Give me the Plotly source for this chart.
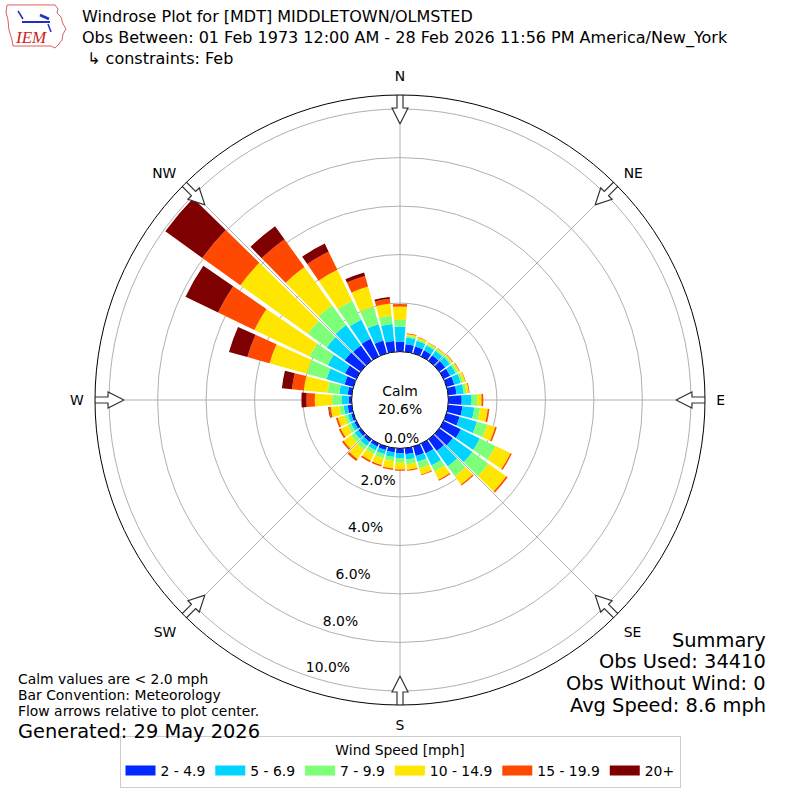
import numpy as np
import plotly.graph_objects as go

# ---------------- data ----------------
directions = list(range(0, 360, 10))
speed_labels = ["2 - 4.9", "5 - 6.9", "7 - 9.9", "10 - 14.9", "15 - 19.9", "20+"]
speed_colors = ["#0028ff", "#00d4ff", "#7dff7a", "#ffe600", "#ff4800", "#7f0000"]

# percent of observations per direction (0,10,...,350 deg) for each speed bin
pct_2_5 = [0.41, 0.31, 0.30, 0.28, 0.28, 0.30, 0.30, 0.33, 0.35, 0.55, 0.59, 0.56,
           0.79, 0.69, 0.60, 0.45, 0.40, 0.25, 0.20, 0.17, 0.15, 0.14, 0.14, 0.13,
           0.10, 0.10, 0.17, 0.12, 0.17, 0.38, 0.52, 0.81, 0.77, 0.81, 0.55, 0.45]
pct_5_7 = [0.62, 0.28, 0.24, 0.22, 0.22, 0.24, 0.25, 0.28, 0.30, 0.41, 0.49, 0.74,
           0.87, 0.99, 0.78, 0.55, 0.25, 0.22, 0.21, 0.20, 0.18, 0.17, 0.20, 0.18,
           0.15, 0.14, 0.17, 0.30, 0.35, 0.77, 0.79, 0.91, 1.04, 0.87, 0.70, 0.70]
pct_7_10 = [0.28, 0.08, 0.07, 0.07, 0.08, 0.08, 0.09, 0.10, 0.11, 0.23, 0.24, 0.44,
            0.72, 0.82, 0.50, 0.27, 0.28, 0.20, 0.18, 0.17, 0.17, 0.17, 0.20, 0.18,
            0.15, 0.14, 0.18, 0.38, 0.49, 0.85, 0.83, 0.97, 1.00, 0.87, 0.75, 0.35]
pct_10_15 = [0.55, 0.07, 0.07, 0.06, 0.06, 0.06, 0.08, 0.09, 0.10, 0.18, 0.32, 0.34,
             0.68, 0.90, 0.42, 0.38, 0.26, 0.23, 0.28, 0.30, 0.29, 0.30, 0.46, 0.38,
             0.32, 0.29, 0.35, 0.72, 0.98, 1.59, 2.53, 3.42, 1.95, 1.41, 0.87, 0.50]
pct_15_20 = [0.10, 0.03, 0.02, 0.02, 0.02, 0.02, 0.02, 0.02, 0.03, 0.07, 0.07, 0.07,
             0.06, 0.07, 0.05, 0.05, 0.04, 0.04, 0.05, 0.06, 0.06, 0.07, 0.10, 0.08,
             0.08, 0.08, 0.08, 0.34, 0.49, 0.95, 1.66, 1.93, 1.41, 0.83, 0.45, 0.20]
pct_20p = [0.00, 0.00, 0.00, 0.00, 0.00, 0.00, 0.00, 0.00, 0.00, 0.00, 0.00, 0.00,
           0.00, 0.00, 0.00, 0.00, 0.00, 0.00, 0.00, 0.00, 0.00, 0.00, 0.00, 0.00,
           0.00, 0.00, 0.03, 0.21, 0.42, 0.79, 1.49, 1.88, 0.66, 0.37, 0.15, 0.07]
series = [pct_2_5, pct_5_7, pct_7_10, pct_10_15, pct_15_20, pct_20p]

compass_angles = [0, 45, 90, 135, 180, 225, 270, 315]
compass_labels = ["N", "NE", "E", "SE", "S", "SW", "W", "NW"]
radial_ticks = [0, 2, 4, 6, 8, 10]
radial_ticktext = ["0.0%", "2.0%", "4.0%", "6.0%", "8.0%", "10.0%"]
radial_label_bearing = 195

calm_pct = 20.6
title_lines = [
    "Windrose Plot for [MDT] MIDDLETOWN/OLMSTED",
    "Obs Between: 01 Feb 1973 12:00 AM - 28 Feb 2026 11:56 PM America/New_York",
    " \u21b3 constraints: Feb",
]
note_lines = ["Calm values are < 2.0 mph", "Bar Convention: Meteorology",
              "Flow arrows relative to plot center."]
generated = "Generated: 29 May 2026"
summary_lines = ["Summary", "Obs Used: 34410", "Obs Without Wind: 0", "Avg Speed: 8.6 mph"]

# ---------------- geometry (pixels) ----------------
W = H = 800
cx, cy = 400, 400
R_OUT = 305.0
R_HOLE = 48.4
RMAX = 10.58
SCALE = (R_OUT - R_HOLE) / RMAX
FONT = "DejaVu Sans"
FS_S, FS_M, FS_L = 13.9, 16.7, 19.4

fig = go.Figure()

for vals, lab, col in zip(series, speed_labels, speed_colors):
    fig.add_trace(go.Barpolar(
        r=vals, theta=directions, width=8.6, name=lab,
        marker=dict(color=col, line=dict(width=0)),
        showlegend=False, hoverinfo="skip"))

# legend entries (wide patches)
for lab, col in zip(speed_labels, speed_colors):
    fig.add_trace(go.Scatterpolar(
        r=[None], theta=[None], mode="lines", name=lab,
        line=dict(color=col, width=10), showlegend=True))

# flow arrows at compass points (decoration)
def px_to_r(rp):
    return (rp - R_HOLE) / SCALE

arrow_px = [(R_OUT + 1, -3), (R_OUT - 13, -3), (R_OUT - 13, -8), (R_OUT - 29, 0),
            (R_OUT - 13, 8), (R_OUT - 13, 3), (R_OUT + 1, 3), (R_OUT + 1, -3)]
for ang in compass_angles:
    rr = [px_to_r(p[0]) for p in arrow_px]
    tt = [ang + np.degrees(p[1] / p[0]) for p in arrow_px]
    fig.add_trace(go.Scatterpolar(
        r=rr, theta=tt, mode="lines", fill="toself", fillcolor="white",
        line=dict(color="#333333", width=1.2), cliponaxis=False,
        showlegend=False, hoverinfo="skip"))

# radial tick labels (2%..10%), set just inside each ring
fig.add_trace(go.Scatterpolar(
    r=[t - 12.5 / SCALE for t in radial_ticks[1:]],
    theta=[radial_label_bearing] * (len(radial_ticks) - 1),
    mode="text", text=radial_ticktext[1:], textposition="middle center",
    textfont=dict(size=FS_S, family=FONT, color="black"),
    cliponaxis=False, showlegend=False, hoverinfo="skip"))

dom = [(cx - R_OUT) / W, (cx + R_OUT) / W]
fig.update_layout(
    width=W, height=H,
    margin=dict(l=0, r=0, t=0, b=0),
    paper_bgcolor="white",
    font=dict(family=FONT, color="black", size=FS_S),
    polar=dict(
        domain=dict(x=dom, y=dom),
        hole=R_HOLE / R_OUT,
        bgcolor="white",
        barmode="stack",
        angularaxis=dict(
            rotation=90, direction="clockwise",
            tickmode="array", tickvals=compass_angles, ticktext=compass_labels,
            showline=True, linecolor="black", linewidth=1,
            showgrid=True, gridcolor="#b0b0b0", gridwidth=0.8,
            ticks="outside", ticklen=8, tickcolor="rgba(0,0,0,0)",
            tickfont=dict(size=FS_S, family=FONT),
        ),
        radialaxis=dict(
            range=[0, RMAX],
            tickmode="array", tickvals=radial_ticks, showticklabels=False,
            showline=False, ticks="", showgrid=True, gridcolor="#b0b0b0", gridwidth=0.8,
        ),
    ),
    legend=dict(
        orientation="h", x=0.5, xanchor="center", y=12 / H, yanchor="bottom",
        bordercolor="#cccccc", borderwidth=1, bgcolor="white",
        font=dict(size=FS_S, family=FONT),
        title=dict(text="Wind Speed [mph]", side="top center", font=dict(size=FS_S)),
        itemwidth=30, tracegroupgap=0,
    ),
)

ann = []
def add_text(text, x_px, y_px, size, xanchor="left", yanchor="middle", color="black",
             family=FONT, align="left"):
    ann.append(dict(text=text, x=x_px / W, y=1 - y_px / H, xref="paper", yref="paper",
                    xanchor=xanchor, yanchor=yanchor, showarrow=False, align=align,
                    font=dict(size=size, family=family, color=color)))

add_text("<br>".join(title_lines), 80, 38, 16)
for i, t in enumerate(note_lines):
    add_text(t, 16, 679 + i * 16, FS_S)
add_text(generated, 16, 731, FS_L)
for i, t in enumerate(summary_lines):
    add_text(t, 768, 640 + i * 21.7, FS_L, xanchor="right")
add_text("Calm<br>%.1f%%" % calm_pct, cx, cy, FS_S, xanchor="center", align="center")
# 0.0% ring label sits inside the calm circle
add_text(radial_ticktext[0], cx + 1, cy + 38, FS_S, xanchor="center")
# logo stand-in
add_text("<i>IEM</i>", 31, 38, 17, xanchor="center", color="#cc2222", family="Liberation Serif")
fig.update_layout(annotations=ann)

# logo outline (decoration)
def P(x, y):
    return "%.4f,%.4f" % (x / W, 1 - y / H)
iowa = [(7, 5), (55, 5), (58, 9), (57, 13), (61, 17), (63, 24), (66, 29), (63, 34),
        (62, 40), (58, 45), (55, 48), (51, 46), (13, 46), (12, 40), (9, 30), (8, 20), (6, 12)]
path = "M" + " L".join(P(x, y) for x, y in iowa) + " Z"
shapes = [dict(type="path", path=path, xref="paper", yref="paper",
               line=dict(color="#e06060", width=1)),
          dict(type="line", x0=22 / W, x1=50 / W, y0=1 - 22 / H, y1=1 - 22 / H,
               xref="paper", yref="paper", line=dict(color="#2030c0", width=2)),
          dict(type="line", x0=18 / W, x1=23 / W, y0=1 - 11 / H, y1=1 - 19 / H,
               xref="paper", yref="paper", line=dict(color="#2030c0", width=1.5)),
          dict(type="line", x0=40 / W, x1=49 / W, y0=1 - 15 / H, y1=1 - 19 / H,
               xref="paper", yref="paper", line=dict(color="#2030c0", width=2.5)),
          dict(type="line", x0=48 / W, x1=51 / W, y0=1 - 24 / H, y1=1 - 32 / H,
               xref="paper", yref="paper", line=dict(color="#2030c0", width=1.5))]
fig.update_layout(shapes=shapes)

fig.write_html("out.html", config={"displayModeBar": False},
               post_script="document.body.style.margin='0px';")
